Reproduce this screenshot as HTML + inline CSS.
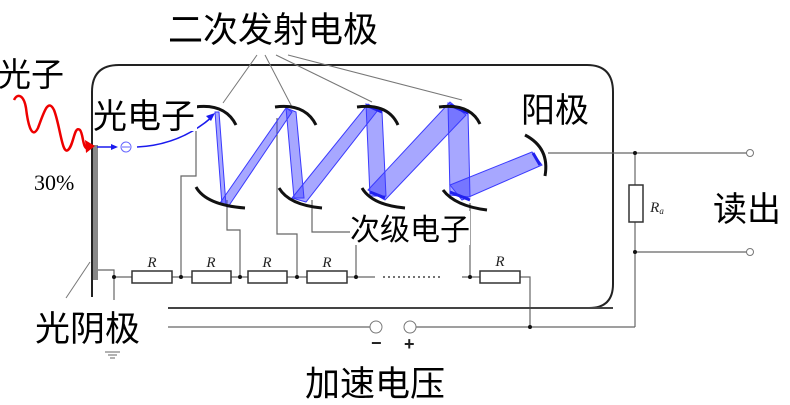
<!DOCTYPE html>
<html><head><meta charset="utf-8"><style>
html,body{margin:0;padding:0;background:#fff}
svg{display:block}
.t{font-family:"Liberation Sans","Noto Sans CJK SC",sans-serif;fill:#000}
</style></head><body>
<svg width="790" height="405" viewBox="0 0 790 405" xmlns="http://www.w3.org/2000/svg">
<path d="M92,297 L92,92 Q92,65 119,65 L587,65 Q613,65 613,92 L613,284 Q613,308 589,308 L168,308" fill="none" stroke="#222" stroke-width="2"/>
<rect x="93" y="145" width="5" height="135" fill="#888"/>
<g stroke="#777" stroke-width="1" fill="none">
<line x1="257" y1="55" x2="223" y2="103"/>
<line x1="265" y1="55" x2="292" y2="107"/>
<line x1="276" y1="55" x2="372" y2="102"/>
<line x1="288" y1="55" x2="462" y2="100"/>
<line x1="90" y1="262" x2="66" y2="298"/>
</g>
<g stroke="#666" stroke-width="1.2" fill="none">
<polyline points="98,270 114,270 114,300"/>
<line x1="114" y1="277" x2="132" y2="277"/>
<line x1="172" y1="277" x2="192" y2="277"/>
<line x1="231" y1="277" x2="248" y2="277"/>
<line x1="287" y1="277" x2="307" y2="277"/>
<line x1="347" y1="277" x2="375" y2="277"/>
<line x1="462" y1="277" x2="480" y2="277"/>
<polyline points="196,118 196,176 181,176 181,277"/>
<polyline points="227,200 227,230 240,230 240,277"/>
<polyline points="277,118 277,234 297,234 297,277"/>
<polyline points="312,200 312,232 356,232 356,277"/>
<polyline points="470,203 470,277"/>
<polyline points="520,277 530,277 530,327"/>
<line x1="548" y1="153" x2="747" y2="153"/>
<line x1="635" y1="153" x2="635" y2="185"/>
<line x1="635" y1="222" x2="635" y2="327"/>
<line x1="635" y1="252" x2="747" y2="252"/>
<line x1="168" y1="327" x2="370" y2="327"/>
<polyline points="416,327 635,327"/>
</g>
<line x1="168" y1="308" x2="613" y2="308" stroke="#444" stroke-width="2"/>
<line x1="383" y1="277" x2="443" y2="277" stroke="#444" stroke-width="1.5" stroke-dasharray="2,3"/>
<g fill="#111">
<circle cx="114" cy="277" r="2"/><circle cx="181" cy="277" r="2"/><circle cx="240" cy="277" r="2"/>
<circle cx="297" cy="277" r="2"/><circle cx="356" cy="277" r="2"/><circle cx="470" cy="277" r="2"/>
<circle cx="635" cy="153" r="2"/><circle cx="635" cy="252" r="2"/><circle cx="530" cy="327" r="2"/>
</g>
<g fill="#fff" stroke="#333" stroke-width="1.5">
<rect x="132" y="271" width="40" height="12"/><rect x="192" y="271" width="39" height="12"/>
<rect x="248" y="271" width="39" height="12"/><rect x="307" y="271" width="40" height="12"/>
<rect x="480" y="271" width="40" height="12"/>
<rect x="629" y="185" width="14" height="37"/>
</g>
<g fill="#fff" stroke="#777" stroke-width="1">
<circle cx="376" cy="327" r="6"/><circle cx="410" cy="327" r="6"/>
<circle cx="750" cy="153" r="3.5"/><circle cx="750" cy="252" r="3.5"/>
</g>
<g font-family="Liberation Serif,serif" font-style="italic" font-size="15" fill="#222" text-anchor="middle">
<text x="152" y="267">R</text><text x="211" y="267">R</text><text x="267" y="267">R</text><text x="327" y="267">R</text><text x="500" y="266">R</text>
<text x="657" y="212">R<tspan font-size="9" dy="2">a</tspan></text>
</g>
<g stroke="#666" stroke-width="1"><line x1="105" y1="352" x2="120" y2="352"/><line x1="108" y1="355" x2="117" y2="355"/><line x1="110" y1="358" x2="115" y2="358"/></g>
<text x="371" y="349" font-family="Liberation Sans,sans-serif" font-size="18" font-weight="bold" fill="#222">−</text>
<text x="404" y="350" font-family="Liberation Sans,sans-serif" font-size="18" font-weight="bold" fill="#222">+</text>
<g fill="rgba(60,60,255,0.45)" stroke="#3a3aff" stroke-width="1">
<polygon points="215,112 219,112 226,205 222,205"/>
<polygon points="220,203 228,207 292,112 286,108"/>
<polygon points="286,108 296,112 304,198 294,198"/>
<polygon points="292,198 306,202 378,110 368,104"/>
<polygon points="366,104 382,112 386,196 370,196"/>
<polygon points="368,190 385,200 466,115 450,102"/>
<polygon points="448,103 468,112 470,197 450,195"/>
<polygon points="450,185 462,200 542,165 532,152"/>
</g>
<g stroke="#2020ee" stroke-width="3"><line x1="450" y1="105" x2="468" y2="113"/><line x1="450" y1="192" x2="470" y2="200"/><line x1="533" y1="153" x2="540" y2="165"/><line x1="368" y1="106" x2="382" y2="112"/><line x1="370" y1="192" x2="385" y2="198"/></g>
<g fill="none" stroke="#111" stroke-width="3">
<path d="M195,107 Q225,103 236,125"/><path d="M196,187 Q206,205 245,208"/>
<path d="M275,107 Q305,103 316,125"/><path d="M279,188 Q289,205 322,208"/>
<path d="M357,107 Q388,103 398,125"/><path d="M362,188 Q372,205 405,208"/>
<path d="M439,107 Q470,103 480,124"/><path d="M443,190 Q455,206 487,210"/>
<path d="M525,135 Q550,148 545,176"/>
</g>
<path d="M14,100 C18,92 24,96 26,108 C28,125 32,140 38,128 C44,112 48,98 54,110 C60,125 62,155 68,150 C74,145 74,125 80,130 C84,135 82,152 90,148" fill="none" stroke="#e00" stroke-width="2.5"/>
<polygon points="95,146 85,140 86,153" fill="#e00"/>
<line x1="97" y1="147" x2="116" y2="147" stroke="#1a1aee" stroke-width="1.5"/>
<polygon points="118,147 111,144 111,150" fill="#1a1aee"/>
<circle cx="126" cy="147" r="5" fill="none" stroke="#66f" stroke-width="1"/><line x1="122" y1="147" x2="130" y2="147" stroke="#66f"/>
<path d="M137,147 Q180,145 212,117" fill="none" stroke="#1a1aee" stroke-width="1.5"/>
<polygon points="215,113 206,116 211,121" fill="#1a1aee"/>
<text class="t" x="168" y="42" font-size="35">二次发射电极</text>
<text class="t" x="-2" y="86" font-size="33">光子</text>
<rect x="93" y="95" width="104" height="36" fill="#fff"/>
<text class="t" x="93" y="128" font-size="34">光电子</text>
<text x="34" y="190" font-family="Liberation Serif,serif" font-size="22" fill="#000">30%</text>
<text class="t" x="521" y="122" font-size="34">阳极</text>
<text class="t" x="713" y="221" font-size="34">读出</text>
<rect x="350" y="211" width="120" height="34" fill="#fff"/>
<text class="t" x="350" y="240" font-size="30">次级电子</text>
<text class="t" x="35" y="341" font-size="35">光阴极</text>
<text class="t" x="305" y="396" font-size="35">加速电压</text>
</svg>
</body></html>
